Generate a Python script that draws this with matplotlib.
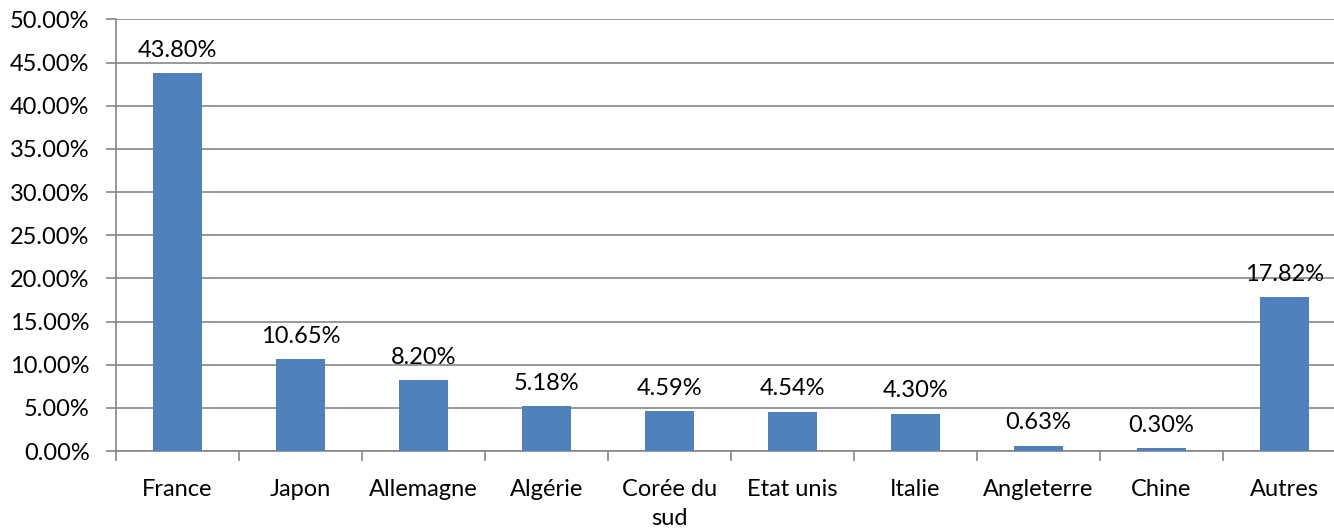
import matplotlib
matplotlib.use("Agg")
import matplotlib.pyplot as plt
import numpy as np

categories = ["France", "Japon", "Allemagne", "Algérie", "Corée du\nsud", "Etat unis",
              "Italie", "Angleterre", "Chine", "Autres"]
values = [43.80, 10.65, 8.20, 5.18, 4.59, 4.54, 4.30, 0.63, 0.30, 17.82]
labels = ["43.80%", "10.65%", "8.20%", "5.18%", "4.59%", "4.54%", "4.30%", "0.63%", "0.30%", "17.82%"]
yticks = [0, 5, 10, 15, 20, 25, 30, 35, 40, 45, 50]

plt.rcParams['font.family'] = ['Lato', 'DejaVu Sans']
W, H = 1334, 528
fig = plt.figure(figsize=(W/100, H/100), dpi=100)
left, right, top, bottom = 116, 116 + 1230, 19.5, 451
ax = fig.add_axes([left/W, 1 - bottom/H, (right-left)/W, (bottom-top)/H])

gray = "#868686"
fs = 17
x = np.arange(len(categories))
ax.bar(x, values, width=0.4, color="#4F81BD", zorder=3)
for xi, v, lab in zip(x, values, labels):
    ax.annotate(lab, (xi, v), xytext=(0, 9), textcoords="offset points",
                ha="center", va="bottom", fontsize=fs, color="black")

ax.set_xlim(-0.5, len(categories) - 0.5)
ax.set_ylim(0, 50)
ax.set_yticks(yticks)
ax.set_yticklabels([f"{t:.2f}%" for t in yticks], fontsize=fs)
ax.yaxis.grid(True, color=gray, linewidth=1.2, zorder=0)
ax.set_axisbelow(True)

ax.set_xticks(x)
ax.set_xticklabels(categories, fontsize=fs, linespacing=1.5)
ax.set_xticks(np.arange(-0.5, len(categories)), minor=True)
ax.tick_params(axis='x', which='major', length=0, pad=20)
ax.tick_params(axis='x', which='minor', length=7, width=1.2, color=gray, direction='out')
ax.tick_params(axis='y', length=7, width=1.2, color=gray, direction='out', pad=12)

for s in ["top", "right"]:
    ax.spines[s].set_visible(False)
for s in ["left", "bottom"]:
    ax.spines[s].set_color(gray)
    ax.spines[s].set_linewidth(1.2)

fig.savefig("out.png", dpi=100)
